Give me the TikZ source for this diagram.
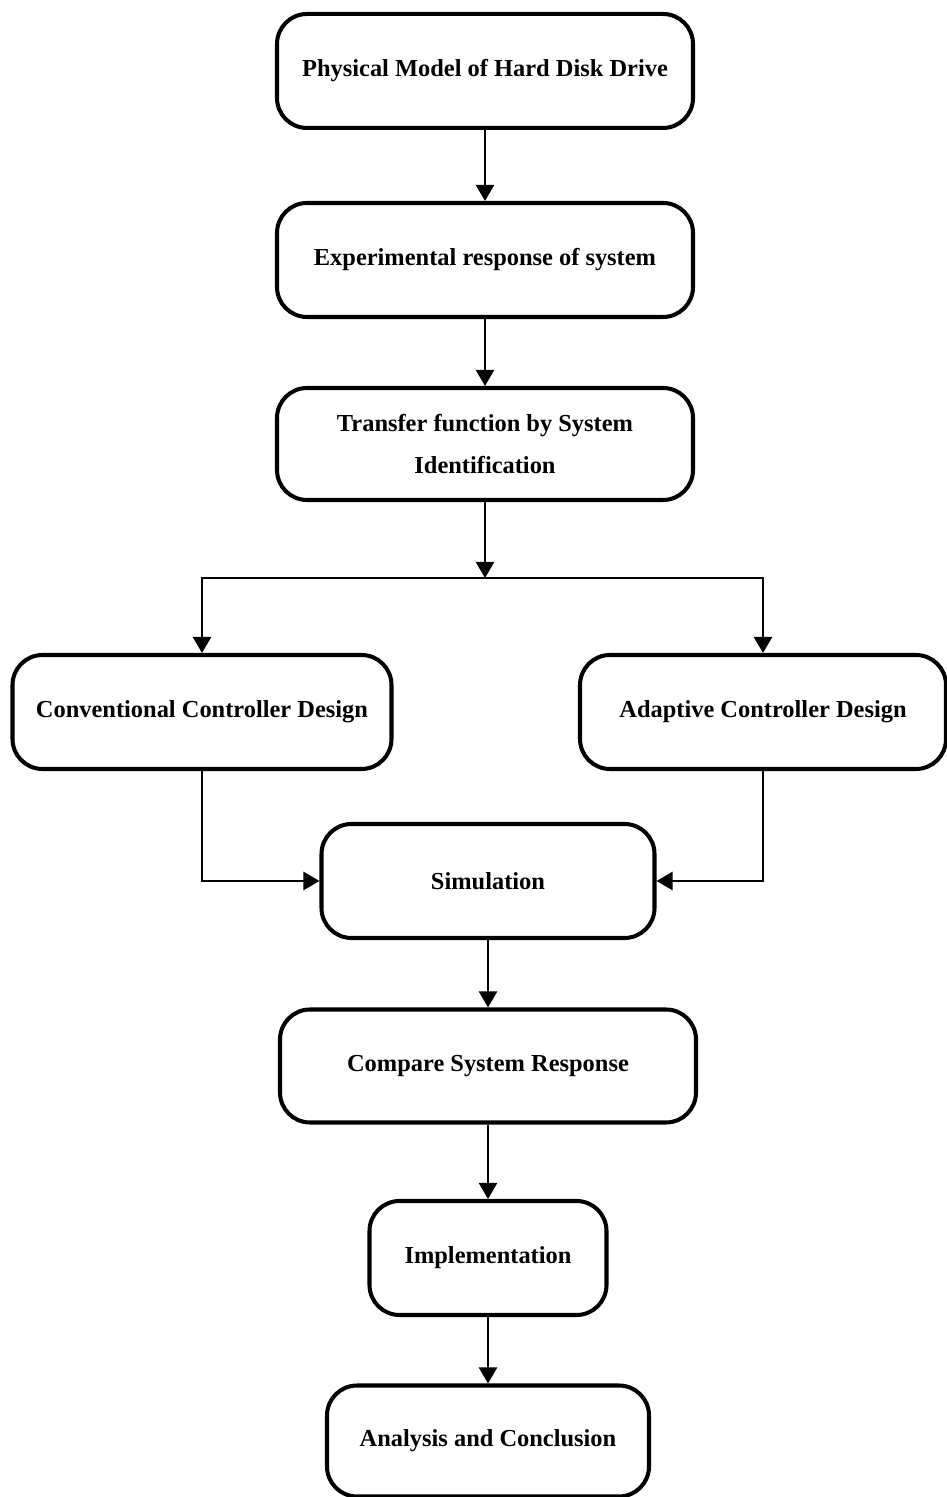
\documentclass[tikz,border=0pt]{standalone}
\usepackage{fontspec}
\setmainfont{Liberation Serif}
\usepackage{tikz}
\usetikzlibrary{arrows.meta}
\usetikzlibrary{positioning}
\tikzstyle{stage} = [rectangle, rounded corners=0.6cm, minimum width=8.32cm, minimum height=2.28cm, text centered, draw=black, line width=2.3pt, font=\fontsize{13.9}{24}\selectfont\bfseries]
\tikzstyle{flow} = [line width=1.4pt, -{Triangle[length=0.32cm,width=0.36cm]}]

\begin{document}
\begin{tikzpicture}[node distance=1.5 cm]
 \useasboundingbox (0,0) rectangle (18.94,29.94);

 \node (model) [stage] at (9.70,28.52) {Physical Model of Hard Disk Drive};
 \node (experiment) [stage] at (9.70,24.74) {Experimental response of system};
 \node (transfer) [stage, minimum height=2.24cm, align=center] at (9.70,21.06) {Transfer function by System\\Identification};
 \coordinate (split) at (9.70,18.38);
 \node (conventional) [stage, minimum width=7.58cm] at (4.04,15.70) {Conventional Controller Design};
 \node (adaptive) [stage, minimum width=7.32cm] at (15.26,15.70) {Adaptive Controller Design};
 \node (simulation) [stage, minimum width=6.66cm] at (9.76,12.32) {Simulation};
 \node (compare) [stage, minimum height=2.26cm] at (9.76,8.62) {Compare System Response};
 \node (implement) [stage, minimum width=4.74cm] at (9.76,4.78) {Implementation};
 \node (analysis) [stage, minimum width=6.44cm, minimum height=2.22cm] at (9.76,1.12) {Analysis and Conclusion};

 \draw [flow] (model) -- (experiment);
 \draw [flow] (experiment) -- (transfer);
 \draw [flow] (transfer) -- (split);
 \draw [flow] (split) -| (conventional);
 \draw [flow] (split) -| (adaptive);
 \draw [flow] (conventional) |- (simulation);
 \draw [flow] (adaptive) |- (simulation);
 \draw [flow] (simulation) -- (compare);
 \draw [flow] (compare) -- (implement);
 \draw [flow] (implement) -- (analysis);
\end{tikzpicture}
\end{document}
